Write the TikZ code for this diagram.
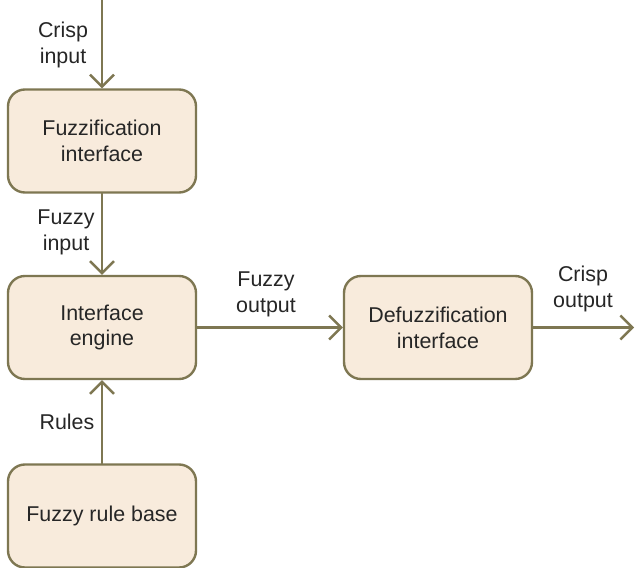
\documentclass[tikz,border=0pt]{standalone}
\usepackage{fontspec}
\setmainfont{Liberation Sans}
\usetikzlibrary{arrows.meta}
\definecolor{edgeolive}{RGB}{126,119,82}
\definecolor{boxfill}{RGB}{248,235,220}

\begin{document}
\begin{tikzpicture}[
  x=1bp,
  y=-1bp,
  line cap=round,
  line join=round,
  block/.style={draw=edgeolive, line width=2.4, rounded corners=17, fill=boxfill,
    minimum width=188bp, minimum height=103bp, align=center, inner sep=0,
    font=\fontsize{21.5}{26}\selectfont},
  arrow/.style={draw=edgeolive, line width=2.4,
    -{Straight Barb[length=12,width=24,line width=2.4]}},
  label/.style={align=center, inner sep=0, font=\fontsize{21.5}{26}\selectfont},
  every node/.style={text=black!85}
]
\path[use as bounding box] (0,0) rectangle (636,568);
\fill[white] (0,0) rectangle (636,568);

% Blocks
\node[block] (fuzz) at (102,141) {Fuzzification\\interface};
\node[block] (engine) at (102,327.5) {Interface\\engine};
\node[block] (defuzz) at (438,327.5) {Defuzzification\\interface};
\node[block] (rulebase) at (102,516) {Fuzzy rule base};

% Free ends
\coordinate (crispin) at (102,0);
\coordinate (crispout) at (634,327.5);

% Connections and labels
\draw[arrow] (crispin) -- (fuzz.north);
\node[label] (crispinlbl) at (63,45) {Crisp\\input};

\draw[arrow] (fuzz.south) -- (engine.north);
\node[label] (fuzzinlbl) at (66,232) {Fuzzy\\input};

\draw[arrow] (engine.east) -- (defuzz.west);
\node[label] (fuzzoutlbl) at (266,294) {Fuzzy\\output};

\draw[arrow] (defuzz.east) -- (crispout);
\node[label] (crispoutlbl) at (583,289) {Crisp\\output};

\draw[arrow] (rulebase.north) -- (engine.south);
\node[label] (ruleslbl) at (67,422) {Rules};

\end{tikzpicture}
\end{document}
